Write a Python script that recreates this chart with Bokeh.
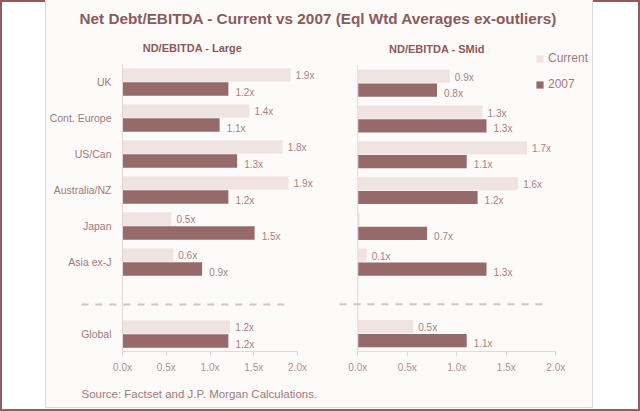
from bokeh.plotting import figure
from bokeh.models import Range1d, FixedTicker, Legend, LegendItem, Spacer, ColumnDataSource
from bokeh.layouts import row, column
from bokeh.transform import dodge
from bokeh.core.properties import value
from bokeh.embed import file_html
from bokeh.resources import INLINE

# ---------------- data ----------------
categories = ["UK", "Cont. Europe", "US/Can", "Australia/NZ", "Japan", "Asia ex-J", "Global"]
slots = [0, 1, 2, 3, 4, 5, 7]          # row slot (6 is the gap with the separator)
large_current = [1.92, 1.45, 1.83, 1.90, 0.56, 0.58, 1.23]
large_2007 = [1.21, 1.11, 1.31, 1.21, 1.51, 0.91, 1.21]
large_current_labels = ["1.9x", "1.4x", "1.8x", "1.9x", "0.5x", "0.6x", "1.2x"]
large_2007_labels = ["1.2x", "1.1x", "1.3x", "1.2x", "1.5x", "0.9x", "1.2x"]
smid_current = [0.93, 1.26, 1.71, 1.62, 0.02, 0.09, 0.56]
smid_2007 = [0.80, 1.30, 1.10, 1.21, 0.70, 1.30, 1.10]
smid_current_labels = ["0.9x", "1.3x", "1.7x", "1.6x", "", "0.1x", "0.5x"]
smid_2007_labels = ["0.8x", "1.3x", "1.1x", "1.2x", "0.7x", "1.3x", "1.1x"]
x_ticks = [0, 0.5, 1.0, 1.5, 2.0]
x_tick_labels = ["0.0x", "0.5x", "1.0x", "1.5x", "2.0x"]
series_names = ["Current", "2007"]
main_title = "Net Debt/EBITDA - Current vs 2007 (Eql Wtd Averages ex-outliers)"
sub_titles = ["ND/EBITDA - Large", "ND/EBITDA - SMid"]
source_text = "Source: Factset and J.P. Morgan Calculations."

# ---------------- style ----------------
FONT = "Liberation Sans"
PANEL = "#fdfbfa"
TITLE_C = "#8b5a5a"
CUR_C = "#f0e4e3"
OLD_C = "#966a69"
CAT_C = "#a07a7a"
VAL_C = "#a68282"
AXIS_C = "#e8d6d6"
AXIS_TXT_C = "#b09090"
DASH_C = "#dbc0c0"


def blank_fig(w, h):
    f = figure(width=w, height=h, output_backend="svg", toolbar_location=None,
               x_range=Range1d(0, w), y_range=Range1d(h, 0),
               x_axis_location=None, y_axis_location=None,
               min_border_left=0, min_border_right=0, min_border_top=0, min_border_bottom=0)
    f.grid.visible = False
    f.outline_line_color = None
    f.background_fill_color = None
    f.border_fill_color = None
    return f


def chart(w, h, bottom, x_start, x_end, y_top, y_bottom, cur, old, cur_lbl, old_lbl,
          subtitle, dash_x, show_cats, legend_loc=None):
    p = figure(width=w, height=h, output_backend="svg", toolbar_location=None,
               x_range=Range1d(x_start, x_end), y_range=Range1d(y_bottom, y_top),
               y_axis_location=None,
               min_border_left=0, min_border_right=0, min_border_top=0, min_border_bottom=bottom)
    p.grid.visible = False
    p.outline_line_color = None
    p.background_fill_color = None
    p.border_fill_color = None

    src = ColumnDataSource(dict(slot=slots, cat=categories, cur=cur, old=old,
                                cur_lbl=cur_lbl, old_lbl=old_lbl))
    r_cur = p.hbar(y=dodge("slot", -0.195, range=p.y_range), left=0, right="cur", height=0.37,
                   fill_color=CUR_C, line_color=None, source=src)
    r_old = p.hbar(y=dodge("slot", 0.195, range=p.y_range), left=0, right="old", height=0.37,
                   fill_color=OLD_C, line_color=None, source=src)
    p.text(x="cur", y=dodge("slot", -0.195, range=p.y_range), text="cur_lbl", source=src,
           x_offset=5, y_offset=1, text_baseline="middle", text_font=value(FONT),
           text_font_size="10px", text_color=VAL_C)
    p.text(x="old", y=dodge("slot", 0.195, range=p.y_range), text="old_lbl", source=src,
           x_offset=7, y_offset=3, text_baseline="middle", text_font=value(FONT),
           text_font_size="10px", text_color=VAL_C)
    if show_cats:
        p.text(x=0, y="slot", text="cat", source=src, x_offset=-11, text_align="right",
               text_baseline="middle", text_font=value(FONT), text_font_size="10.5px",
               text_color=CAT_C)
    # vertical axis line
    p.segment(x0=[0], y0=[-0.5], x1=[0], y1=[y_bottom], line_color=AXIS_C, line_width=1)
    # separator before Global
    p.segment(x0=[dash_x[0]], y0=[6.18], x1=[dash_x[1]], y1=[6.18], line_color=DASH_C,
              line_width=2, line_dash="7 7")
    # subtitle
    p.text(x=[0.8], y=[-0.95], text=[subtitle], text_align="center", text_baseline="middle",
           text_font=value(FONT), text_font_size="11px", text_font_style="bold",
           text_color=TITLE_C)

    ax = p.xaxis[0]
    ax.bounds = (0, 2)
    ax.ticker = FixedTicker(ticks=x_ticks)
    ax.major_label_overrides = {t: l for t, l in zip(x_ticks, x_tick_labels)}
    ax.axis_line_color = AXIS_C
    ax.major_tick_line_color = AXIS_C
    ax.major_tick_in = 0
    ax.major_tick_out = 5
    ax.minor_tick_line_color = None
    ax.major_label_standoff = 5
    ax.major_label_text_font = FONT
    ax.major_label_text_font_size = "10px"
    ax.major_label_text_color = AXIS_TXT_C

    if legend_loc is not None:
        leg = Legend(items=[LegendItem(label=series_names[0], renderers=[r_cur]),
                            LegendItem(label=series_names[1], renderers=[r_old])],
                     location=legend_loc, padding=0, margin=0, spacing=6,
                     glyph_width=9, glyph_height=9, label_height=20, label_standoff=4,
                     label_text_font=FONT, label_text_font_size="12px",
                     label_text_color=CAT_C, border_line_color=None,
                     background_fill_color=None)
        p.add_layout(leg)
    return p


# title strip (page y 0..36)
title_fig = blank_fig(546, 36)
title_fig.text(x=[272], y=[18], text=[main_title], text_align="center", text_baseline="middle",
               text_font=value(FONT), text_font_size="15.3px", text_font_style="bold",
               text_color=TITLE_C)

# left chart: page x 46..330, frame y 36..351 ; 0 at x=122, 87.5 px/unit ; UK row at y=81.5
left = chart(284, 344, 29, -76 / 87.5, (284 - 76) / 87.5,
             (36 - 81.5) / 36, (351 - 81.5) / 36,
             large_current, large_2007, large_current_labels, large_2007_labels,
             sub_titles[0], (-0.47, 1.92), True)

# right chart: page x 330..592, frame y 36..353 ; 0 at x=357.3, 99 px/unit ; UK row at y=83
right = chart(262, 344, 27, -27.3 / 99, (262 - 27.3) / 99,
              (36 - 83) / 36, (353 - 83) / 36,
              smid_current, smid_2007, smid_current_labels, smid_2007_labels,
              sub_titles[1], (-0.185, 1.926), False, legend_loc=(205, 257))

src_fig = blank_fig(546, 27)
src_fig.text(x=[35], y=[13], text=[source_text], text_baseline="middle",
             text_font=value(FONT), text_font_size="11.5px", text_color=CAT_C)

panel = column(title_fig, row(left, right), src_fig,
               styles={"background-color": PANEL, "outline": "1px solid #dedad9"})
root = row(Spacer(width=46, height=411), panel, Spacer(width=48, height=411),
           styles={"background-color": "#ffffff", "outline": "2px solid #8c5e5e",
                   "outline-offset": "-2px"})

open("out.html", "w").write(file_html(root, INLINE))
